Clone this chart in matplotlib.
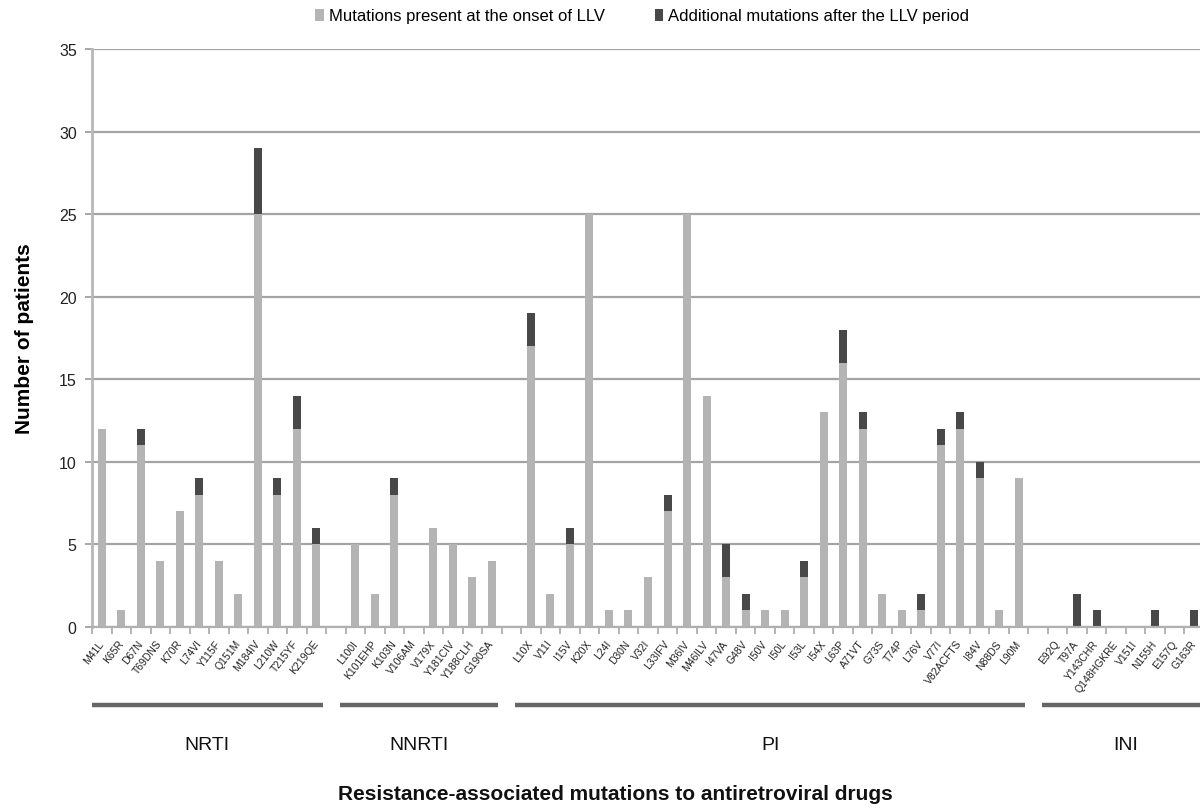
import matplotlib
matplotlib.use("Agg")
import matplotlib.pyplot as plt
import matplotlib.transforms as mtransforms
from matplotlib.patches import Patch
import numpy as np

plt.rcParams['font.family'] = ['Liberation Sans Narrow', 'Liberation Sans', 'DejaVu Sans']

# ---------------- data ----------------
nrti_labels = ["M41L", "K65R", "D67N", "T69DNS", "K70R", "L74VI", "Y115F", "Q151M",
               "M184IV", "L210W", "T215YF", "K219QE"]
nrti_onset = [12, 1, 11, 4, 7, 8, 4, 2, 25, 8, 12, 5]
nrti_add = [0, 0, 1, 0, 0, 1, 0, 0, 4, 1, 2, 1]

nnrti_labels = ["L100I", "K101EHP", "K103N", "V106AM", "V179X", "Y181CIV", "Y188CLH", "G190SA"]
nnrti_onset = [5, 2, 8, 0, 6, 5, 3, 4]
nnrti_add = [0, 0, 1, 0, 0, 0, 0, 0]

pi_labels = ["L10X", "V11I", "I15V", "K20X", "L24I", "D30N", "V32I", "L33IFV", "M36IV",
             "M46ILV", "I47VA", "G48V", "I50V", "I50L", "I53L", "I54X", "L63P", "A71VT",
             "G73S", "T74P", "L76V", "V77I", "V82ACFTS", "I84V", "N88DS", "L90M"]
pi_onset = [17, 2, 5, 25, 1, 1, 3, 7, 25, 14, 3, 1, 1, 1, 3, 13, 16, 12, 2, 1, 1, 11, 12, 9, 1, 9]
pi_add = [2, 0, 1, 0, 0, 0, 0, 1, 0, 0, 2, 1, 0, 0, 1, 0, 2, 1, 0, 0, 1, 1, 1, 1, 0, 0]

ini_labels = ["E92Q", "T97A", "Y143CHR", "Q148HGKRE", "V151I", "N155H", "E157Q", "G163R"]
ini_onset = [0, 0, 0, 0, 0, 0, 0, 0]
ini_add = [0, 2, 1, 0, 0, 1, 0, 1]

group_names = ["NRTI", "NNRTI", "PI", "INI"]
groups = [(nrti_labels, nrti_onset, nrti_add),
          (nnrti_labels, nnrti_onset, nnrti_add),
          (pi_labels, pi_onset, pi_add),
          (ini_labels, ini_onset, ini_add)]

legend_labels = ["Mutations present at the onset of LLV", "Additional mutations after the LLV period"]
y_ticks = [0, 5, 10, 15, 20, 25, 30, 35]

# ---------------- build category axis with gaps ----------------
labels, onset, add, spans = [], [], [], []
for gi, (lab, on, ad) in enumerate(groups):
    start = len(labels)
    labels += lab
    onset += on
    add += ad
    spans.append((start, len(labels) - 1))
    if gi < len(groups) - 1:
        labels.append("")
        onset.append(0)
        add.append(0)
x = np.arange(len(labels))
onset = np.array(onset)
add = np.array(add)

light = "#b4b4b4"
dark = "#484848"
gridc = "#a4a4a4"

fig = plt.figure(figsize=(12, 8.12), dpi=100)
ax = fig.add_axes([92 / 1200, 1 - 628 / 812, 1112 / 1200, 578 / 812])

ax.bar(x, onset, width=0.41, color=light, zorder=2)
ax.bar(x, add, width=0.41, bottom=onset, color=dark, zorder=2)

ax.set_xlim(-0.5, len(labels) - 0.5)
ax.set_ylim(0, 35)
ax.set_yticks(y_ticks)
ax.yaxis.grid(True, color=gridc, linewidth=1.6, zorder=0)
ax.set_axisbelow(True)

for s in ["top", "right"]:
    ax.spines[s].set_visible(False)
ax.spines["left"].set_color("#b8b8b8")
ax.spines["left"].set_linewidth(2)
ax.spines["bottom"].set_color("#b0b0b0")
ax.spines["bottom"].set_linewidth(1.6)

ax.tick_params(axis="y", colors="#a0a0a0", length=5, width=1.3, labelsize=11.5, labelcolor="#222222", pad=6)
ax.set_xticks(x)
ax.set_xticklabels(labels, rotation=52, ha="right", rotation_mode="anchor", fontsize=7.5, color="#222222")
ax.tick_params(axis="x", which="major", length=0, pad=8)
shift = mtransforms.ScaledTranslation(-4 / 100, 0, fig.dpi_scale_trans)
for lbl in ax.get_xticklabels():
    lbl.set_transform(lbl.get_transform() + shift)
ax.set_xticks(np.arange(-0.5, len(labels)), minor=True)
ax.tick_params(axis="x", which="minor", length=5, width=1.1, color="#a0a0a0")

ax.set_ylabel("Number of patients", fontsize=15, fontweight="bold",
              family=["Liberation Sans", "DejaVu Sans"])
ax.yaxis.set_label_coords(-0.052, 0.5)

# group lines and labels
trans = mtransforms.blended_transform_factory(ax.transData, ax.transAxes)
y_line = (628 - 706) / 578
y_text = (628 - 746) / 578
for name, (a, b) in zip(group_names, spans):
    xs = max(a - 0.8, -0.5)
    xe = b + 0.33 if name != "INI" else b + 1.0
    ax.plot([xs, xe], [y_line, y_line], transform=trans, color="#666666", lw=3.2,
            solid_capstyle="butt", clip_on=False)
    xc = (xs + xe) / 2 if name != "INI" else (a + b) / 2
    ax.text(xc, y_text, name, transform=trans, ha="center", va="center", fontsize=14,
            family=["Liberation Sans", "DejaVu Sans"], color="#111111")

fig.text(615 / 1200, 1 - 795 / 812, "Resistance-associated mutations to antiretroviral drugs",
         ha="center", va="center", fontsize=15, fontweight="bold",
         family=["Liberation Sans", "DejaVu Sans"], color="#111111")

handles = [Patch(facecolor=light, edgecolor="none"), Patch(facecolor=dark, edgecolor="none")]
fig.legend(handles, legend_labels, loc="center", bbox_to_anchor=(0.535, 1 - 17 / 812), ncol=2,
           frameon=False, fontsize=12, handlelength=0.5, handleheight=0.7, handletextpad=0.3,
           columnspacing=3.0)

fig.savefig("out.png", dpi=100)
